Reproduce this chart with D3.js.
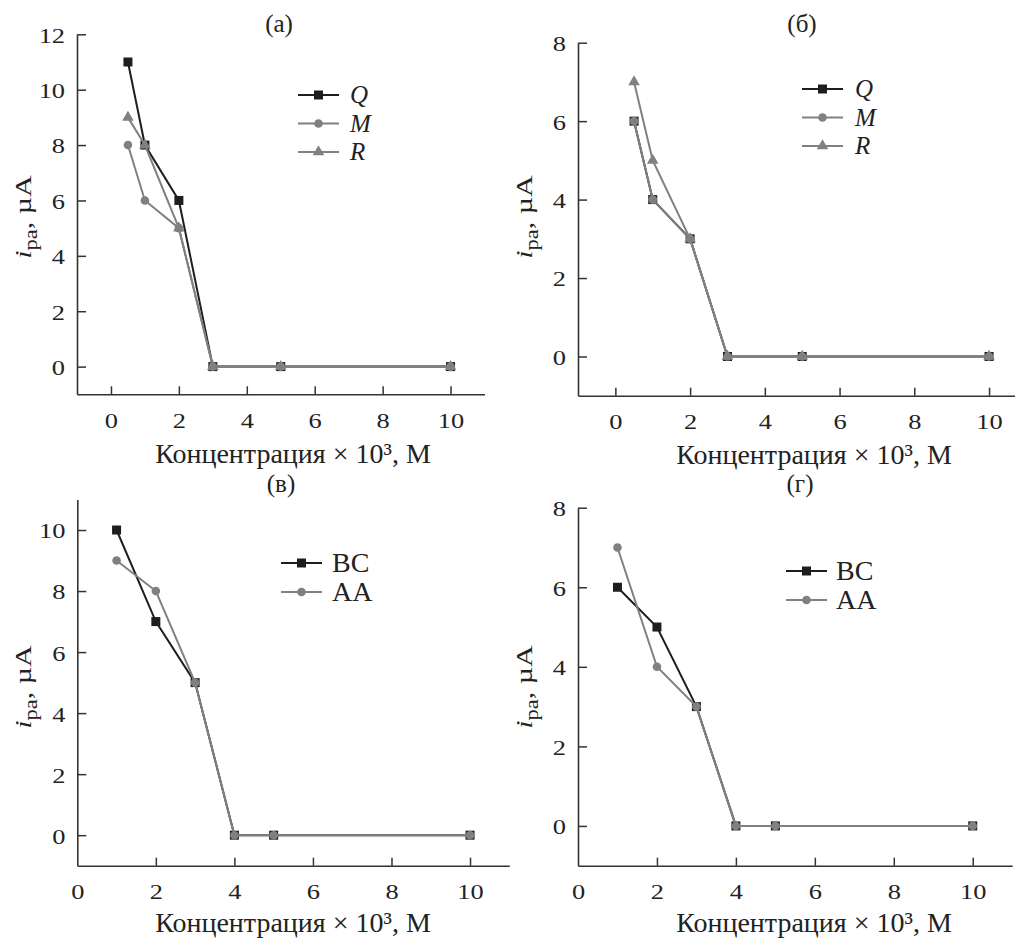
<!DOCTYPE html>
<html>
<head>
<meta charset="utf-8">
<script src="https://cdn.jsdelivr.net/npm/d3@7"></script>
<style>
  body { margin: 0; background: #fff; }
  svg { display: block; }
</style>
</head>
<body>
<svg id="chart" width="1015" height="938"></svg>
<script>
// concentrations (x 10^3, M)
var concAB = [0.5, 1, 2, 3, 5, 10];
var concVG = [1, 2, 3, 4, 5, 10];

// panel (а)
var aQ = [11, 8, 6, 0, 0, 0];
var aM = [8, 6, 5, 0, 0, 0];
var aR = [9, 8, 5, 0, 0, 0];
// panel (б)
var bQ = [6, 4, 3, 0, 0, 0];
var bM = [6, 4, 3, 0, 0, 0];
var bR = [7, 5, 3, 0, 0, 0];
// panel (в)
var vBC = [10, 7, 5, 0, 0, 0];
var vAA = [9, 8, 5, 0, 0, 0];
// panel (г)
var gBC = [6, 5, 3, 0, 0, 0];
var gAA = [7, 4, 3, 0, 0, 0];

var xTicks = [0, 2, 4, 6, 8, 10];
var yTicksA = [0, 2, 4, 6, 8, 10, 12];
var yTicksB = [0, 2, 4, 6, 8];
var yTicksV = [0, 2, 4, 6, 8, 10];
var yTicksG = [0, 2, 4, 6, 8];

var xLabel = 'Концентрация × 10³, М';
var BLACK = '#1e1e1e', GRAY = '#808080';
var SERIF = '"Liberation Serif", "Times New Roman", Times, "DejaVu Serif", serif';

var svg = d3.select('#chart');

function txt(sel, size) {
  return sel.style('font-family', SERIF).style('font-size', size + 'px').style('fill', '#222');
}

function zip(xs, ys) {
  return xs.map(function (x, i) { return { x: x, y: ys[i] }; });
}

function drawMarker(sel, shape, color) {
  if (shape === 'square') {
    sel.append('rect').attr('x', -4.5).attr('y', -4.5).attr('width', 9).attr('height', 9)
      .attr('fill', color);
  } else if (shape === 'circle') {
    sel.append('circle').attr('r', 4.3).attr('fill', color);
  } else {
    sel.append('path').attr('d', d3.symbol(d3.symbolTriangle, 58)()).attr('fill', color);
  }
}

function drawPanel(p) {
  var x = d3.scaleLinear().domain(p.xDomain).range(p.xRange);
  var y = d3.scaleLinear().domain(p.yDomain).range(p.yRange);
  var g = svg.append('g');
  var axisY = y(p.yDomain[0]);

  // axes (tick marks point inward, labels are a bit wide in the source)
  var xAxis = g.append('g')
    .attr('transform', 'translate(0,' + axisY + ')')
    .call(d3.axisBottom(x).tickValues(xTicks).tickSizeInner(-8).tickSizeOuter(0).tickPadding(18));
  var yAxis = g.append('g')
    .attr('transform', 'translate(' + x(p.xDomain[0]) + ',0)')
    .call(d3.axisLeft(y).tickValues(p.yTicks).tickSizeInner(-9).tickSizeOuter(0).tickPadding(10));

  [xAxis, yAxis].forEach(function (a) {
    a.select('.domain').attr('stroke', '#333').attr('stroke-width', 1.6);
    a.selectAll('.tick line').attr('stroke', '#333').attr('stroke-width', 1.5);
    txt(a.selectAll('.tick text'), 22).attr('transform', 'scale(1.2,1)');
  });
  yAxis.selectAll('.tick text').attr('dy', '0.36em');
  if (p.xDomain[0] === 0) {
    xAxis.selectAll('.tick line').filter(function (d) { return d === 0; }).remove();
  }

  // title
  txt(g.append('text').attr('x', p.titleX).attr('y', p.titleY).attr('text-anchor', 'middle'), 25)
    .text(p.title);

  // x label
  txt(g.append('text').attr('x', p.xLabelX).attr('y', axisY + p.xLabelDy).attr('text-anchor', 'middle'), 28)
    .text(xLabel);

  // y label
  var yl = txt(g.append('text')
    .attr('transform', 'translate(' + p.yLabelX + ',' + p.yLabelY + ') rotate(-90) scale(1.25,1)')
    .attr('text-anchor', 'middle'), 24);
  yl.append('tspan').style('font-style', 'italic').text('i');
  yl.append('tspan').style('font-size', '18px').attr('dy', 6).text('ра');
  yl.append('tspan').attr('dy', -6).text(', µA');

  // series
  var line = d3.line().x(function (d) { return x(d.x); }).y(function (d) { return y(d.y); });
  p.series.forEach(function (s) {
    var pts = zip(p.xs, s.values);
    g.append('path').datum(pts).attr('d', line).attr('fill', 'none')
      .attr('stroke', s.color).attr('stroke-width', 2);
    g.selectAll(null).data(pts).enter().append('g')
      .attr('transform', function (d) { return 'translate(' + x(d.x) + ',' + y(d.y) + ')'; })
      .each(function () { drawMarker(d3.select(this), s.shape, s.color); });
  });

  // legend
  p.series.forEach(function (s, i) {
    var ly = p.legendY + i * p.legendStep;
    var lg = g.append('g').attr('transform', 'translate(' + p.legendX + ',' + ly + ')');
    lg.append('line').attr('x1', 0).attr('x2', 41).attr('stroke', s.color).attr('stroke-width', 2);
    lg.append('g').attr('transform', 'translate(20.5,0)').call(function (m) { drawMarker(m, s.shape, s.color); });
    txt(lg.append('text').attr('x', p.legendTextDx).attr('y', p.legendFont * 0.33), p.legendFont)
      .style('font-style', p.italicLegend ? 'italic' : 'normal').text(s.name);
  });
}

drawPanel({
  title: '(а)', titleX: 279, titleY: 31.5,
  xs: concAB, xDomain: [-1, 11], xRange: [77, 484.5],
  yDomain: [-1, 12], yRange: [394.3, 34.3], yTicks: yTicksA,
  xLabelX: 293, xLabelDy: 69, yLabelX: 31, yLabelY: 217,
  legendX: 298, legendY: 95, legendStep: 28.5, italicLegend: true, legendFont: 25, legendTextDx: 52,
  series: [
    { name: 'Q', values: aQ, color: BLACK, shape: 'square' },
    { name: 'M', values: aM, color: GRAY, shape: 'circle' },
    { name: 'R', values: aR, color: GRAY, shape: 'triangle' }
  ]
});

drawPanel({
  title: '(б)', titleX: 802, titleY: 31.5,
  xs: concAB, xDomain: [-1, 11], xRange: [578, 1026.4],
  yDomain: [-1, 8], yRange: [395.7, 42.7], yTicks: yTicksB,
  xLabelX: 814, xLabelDy: 68, yLabelX: 532, yLabelY: 217,
  legendX: 802, legendY: 89, legendStep: 28.5, italicLegend: true, legendFont: 25, legendTextDx: 53,
  series: [
    { name: 'Q', values: bQ, color: BLACK, shape: 'square' },
    { name: 'M', values: bM, color: GRAY, shape: 'circle' },
    { name: 'R', values: bR, color: GRAY, shape: 'triangle' }
  ]
});

drawPanel({
  title: '(в)', titleX: 281, titleY: 492,
  xs: concVG, xDomain: [0, 11], xRange: [77.3, 509.3],
  yDomain: [-1, 11], yRange: [865.7, 499.5], yTicks: yTicksV,
  xLabelX: 293, xLabelDy: 66, yLabelX: 31, yLabelY: 687,
  legendX: 281, legendY: 563, legendStep: 29, italicLegend: false, legendFont: 28, legendTextDx: 51,
  series: [
    { name: 'BC', values: vBC, color: BLACK, shape: 'square' },
    { name: 'AA', values: vAA, color: GRAY, shape: 'circle' }
  ]
});

drawPanel({
  title: '(г)', titleX: 800, titleY: 492,
  xs: concVG, xDomain: [0, 11], xRange: [578, 1012.2],
  yDomain: [-1, 8], yRange: [865.7, 507.7], yTicks: yTicksG,
  xLabelX: 814, xLabelDy: 66, yLabelX: 532, yLabelY: 687,
  legendX: 786, legendY: 571, legendStep: 29, italicLegend: false, legendFont: 28, legendTextDx: 50,
  series: [
    { name: 'BC', values: gBC, color: BLACK, shape: 'square' },
    { name: 'AA', values: gAA, color: GRAY, shape: 'circle' }
  ]
});
</script>
</body>
</html>
